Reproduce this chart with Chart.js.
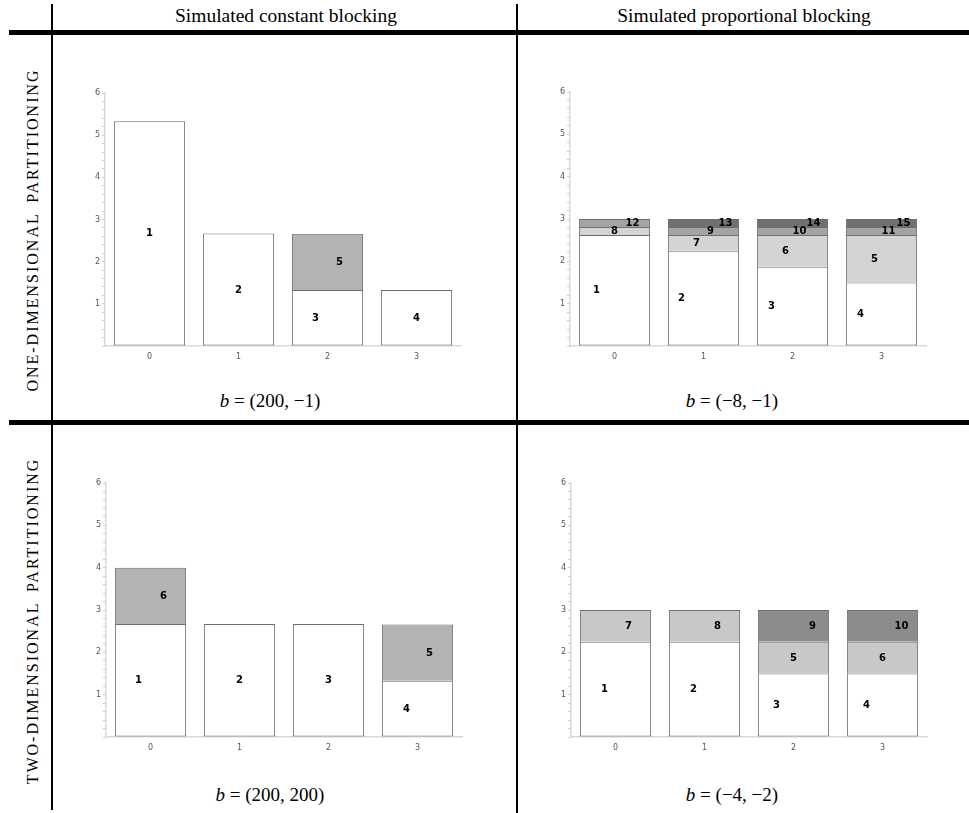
<!DOCTYPE html>
<html><head><meta charset="utf-8">
<script src="https://cdn.jsdelivr.net/npm/chart.js@4/dist/chart.umd.min.js"></script>
<style>
html,body{margin:0;padding:0;background:#fff;}
body{width:969px;height:813px;position:relative;overflow:hidden;font-family:"Liberation Serif","DejaVu Serif",serif;color:#000;}
.ln{position:absolute;background:#000;}
.hd{position:absolute;font-size:19.5px;white-space:nowrap;transform:translate(-50%,-50%);}
.bl{position:absolute;font-size:19px;white-space:nowrap;transform:translate(-50%,-50%);}
.rot{position:absolute;font-size:16px;letter-spacing:2px;word-spacing:4px;white-space:nowrap;transform:translate(-50%,-50%) rotate(-90deg);}
.cv{position:absolute;}
</style></head><body>

<div class="ln" style="left:51px;top:4px;width:2px;height:806px;"></div>
<div class="ln" style="left:516px;top:4px;width:2px;height:809px;"></div>
<div class="ln" style="left:9px;top:30px;width:960px;height:5px;"></div>
<div class="ln" style="left:9px;top:420px;width:960px;height:5px;"></div>

<div class="hd" style="left:286px;top:16px;">Simulated constant blocking</div>
<div class="hd" style="left:744px;top:16px;">Simulated proportional blocking</div>
<div class="bl" style="left:270px;top:401px;"><i>b</i> = (200, −1)</div>
<div class="bl" style="left:732px;top:401px;"><i>b</i> = (−8, −1)</div>
<div class="bl" style="left:270px;top:795px;"><i>b</i> = (200, 200)</div>
<div class="bl" style="left:732px;top:795px;"><i>b</i> = (−4, −2)</div>

<div class="rot" style="left:33px;top:230px;">ONE-DIMENSIONAL PARTITIONING</div>
<div class="rot" style="left:33px;top:621px;">TWO-DIMENSIONAL PARTITIONING</div>

<canvas id="tl" class="cv"></canvas>
<canvas id="tr" class="cv"></canvas>
<canvas id="bl" class="cv"></canvas>
<canvas id="br" class="cv"></canvas>

<script>
// ---- data ----
const categories = ['0', '1', '2', '3'];
const yMax = 6;

// top-left: one-dimensional, constant blocking
const tlBase = [5.33, 2.67, 1.33, 1.33];
const tlUpper = [null, null, 1.33, null];
const tlBaseLabels = ['1', '2', '3', '4'];
const tlUpperLabels = ['', '', '5', ''];

// top-right: one-dimensional, proportional blocking
const trBase = [2.625, 2.25, 1.875, 1.5];
const trLight = [0.1875, 0.375, 0.75, 1.125];
const trMid = [0.1875, 0.1875, 0.1875, 0.1875];
const trDark = [null, 0.1875, 0.1875, 0.1875];
const trBaseLabels = ['1', '2', '3', '4'];
const trLightLabels = ['8', '7', '6', '5'];
const trMidLabels = ['12', '9', '10', '11'];
const trDarkLabels = ['', '13', '14', '15'];

// bottom-left: two-dimensional, constant blocking
const blBase = [2.67, 2.67, 2.67, 1.33];
const blUpper = [1.33, null, null, 1.33];
const blBaseLabels = ['1', '2', '3', '4'];
const blUpperLabels = ['6', '', '', '5'];

// bottom-right: two-dimensional, proportional blocking
const brBase = [2.25, 2.25, 1.5, 1.5];
const brLight = [0.75, 0.75, 0.75, 0.75];
const brDark = [null, null, 0.75, 0.75];
const brBaseLabels = ['1', '2', '3', '4'];
const brLightLabels = ['7', '8', '5', '6'];
const brDarkLabels = ['', '', '9', '10'];

// ---- label horizontal shifts (px, relative to bar centre) ----
const tlBaseShift = [0, 0, -12, 0], tlUpperShift = [0, 0, 12, 0];
const trBaseShift = [-18, -22, -21, -21], trLightShift = [0, -7, -7, -7],
      trMidShift = [18, 7, 7, 7], trDarkShift = [0, 22, 21, 22];
const blBaseShift = [-12, 0, 0, -11], blUpperShift = [13, 0, 0, 12];
const brBaseShift = [-11, -11, -17, -16], brLightShift = [13, 13, 0, 0], brDarkShift = [0, 0, 19, 19];

const segLabelPlugin = {
  id: 'segLabels',
  afterDatasetsDraw(chart) {
    const ctx = chart.ctx;
    ctx.save();
    ctx.font = 'bold 10px "DejaVu Sans", sans-serif';
    ctx.fillStyle = '#000';
    ctx.textAlign = 'center';
    ctx.textBaseline = 'middle';
    chart.data.datasets.forEach((ds, i) => {
      const meta = chart.getDatasetMeta(i);
      meta.data.forEach((el, j) => {
        if (ds.data[j] == null) return;
        const t = ds.segLabels[j];
        if (!t) return;
        ctx.fillText(t, el.x + ds.segShift[j], (el.y + el.base) / 2 + 0.5);
      });
    });
    ctx.restore();
  }
};

function makeChart(id, area, layers) {
  // area: [x0, y0, x1, y1] = desired plot area in page pixels
  const padL = 15, padT = 20, padR = 20, padB = 10, yW = 35, xH = 20;
  const cv = document.getElementById(id);
  const w = (area[2] - area[0]) + padL + yW + padR;
  const h = (area[3] - area[1]) + padT + padB + xH;
  cv.style.left = (area[0] - padL - yW) + 'px';
  cv.style.top = (area[1] - padT) + 'px';
  cv.width = w; cv.height = h;
  cv.style.width = w + 'px'; cv.style.height = h + 'px';
  new Chart(cv, {
    type: 'bar',
    data: {
      labels: categories,
      datasets: layers.map((L, k) => ({
        data: L.data,
        segLabels: L.labels,
        segShift: L.shift,
        backgroundColor: L.color,
        borderColor: '#6e6e6e',
        borderWidth: 1,
        borderSkipped: k === 0 ? false : 'start',
        categoryPercentage: 0.8,
        barPercentage: 1.0,
        stack: 's'
      }))
    },
    options: {
      responsive: false,
      animation: false,
      devicePixelRatio: 1,
      layout: { padding: { left: padL, top: padT, right: padR, bottom: padB } },
      plugins: { legend: { display: false }, tooltip: { enabled: false } },
      scales: {
        x: {
          stacked: true,
          afterFit(s) { s.height = xH; },
          grid: { display: true, drawOnChartArea: false, drawTicks: false },
          border: { display: true, color: '#d8d8d8', width: 1.5 },
          ticks: { color: '#555', font: { family: '"DejaVu Sans", sans-serif', size: 8 }, padding: 6 }
        },
        y: {
          stacked: true,
          min: 0, max: yMax,
          afterFit(s) { s.width = yW; },
          grid: { drawOnChartArea: false, drawTicks: true, tickLength: 3, color: '#cfcfcf' },
          border: { display: true, color: '#d8d8d8', width: 1.5 },
          ticks: {
            stepSize: 0.2, autoSkip: false, padding: 2, color: '#555',
            font: { family: '"DejaVu Sans", sans-serif', size: 8 },
            callback(v) {
              const r = Math.round(v);
              return (Math.abs(v - r) < 1e-6 && r > 0) ? String(r) : '';
            }
          }
        }
      }
    },
    plugins: [segLabelPlugin]
  });
}

makeChart('tl', [105, 93, 461, 346], [
  { data: tlBase, labels: tlBaseLabels, shift: tlBaseShift, color: '#ffffff' },
  { data: tlUpper, labels: tlUpperLabels, shift: tlUpperShift, color: '#b3b3b3' }
]);
makeChart('tr', [570, 92, 926, 346], [
  { data: trBase, labels: trBaseLabels, shift: trBaseShift, color: '#ffffff' },
  { data: trLight, labels: trLightLabels, shift: trLightShift, color: '#d4d4d4' },
  { data: trMid, labels: trMidLabels, shift: trMidShift, color: '#a4a4a4' },
  { data: trDark, labels: trDarkLabels, shift: trDarkShift, color: '#707070' }
]);
makeChart('bl', [106, 483, 462, 737], [
  { data: blBase, labels: blBaseLabels, shift: blBaseShift, color: '#ffffff' },
  { data: blUpper, labels: blUpperLabels, shift: blUpperShift, color: '#b3b3b3' }
]);
makeChart('br', [571, 483, 927, 737], [
  { data: brBase, labels: brBaseLabels, shift: brBaseShift, color: '#ffffff' },
  { data: brLight, labels: brLightLabels, shift: brLightShift, color: '#c8c8c8' },
  { data: brDark, labels: brDarkLabels, shift: brDarkShift, color: '#8c8c8c' }
]);
</script>
</body></html>
